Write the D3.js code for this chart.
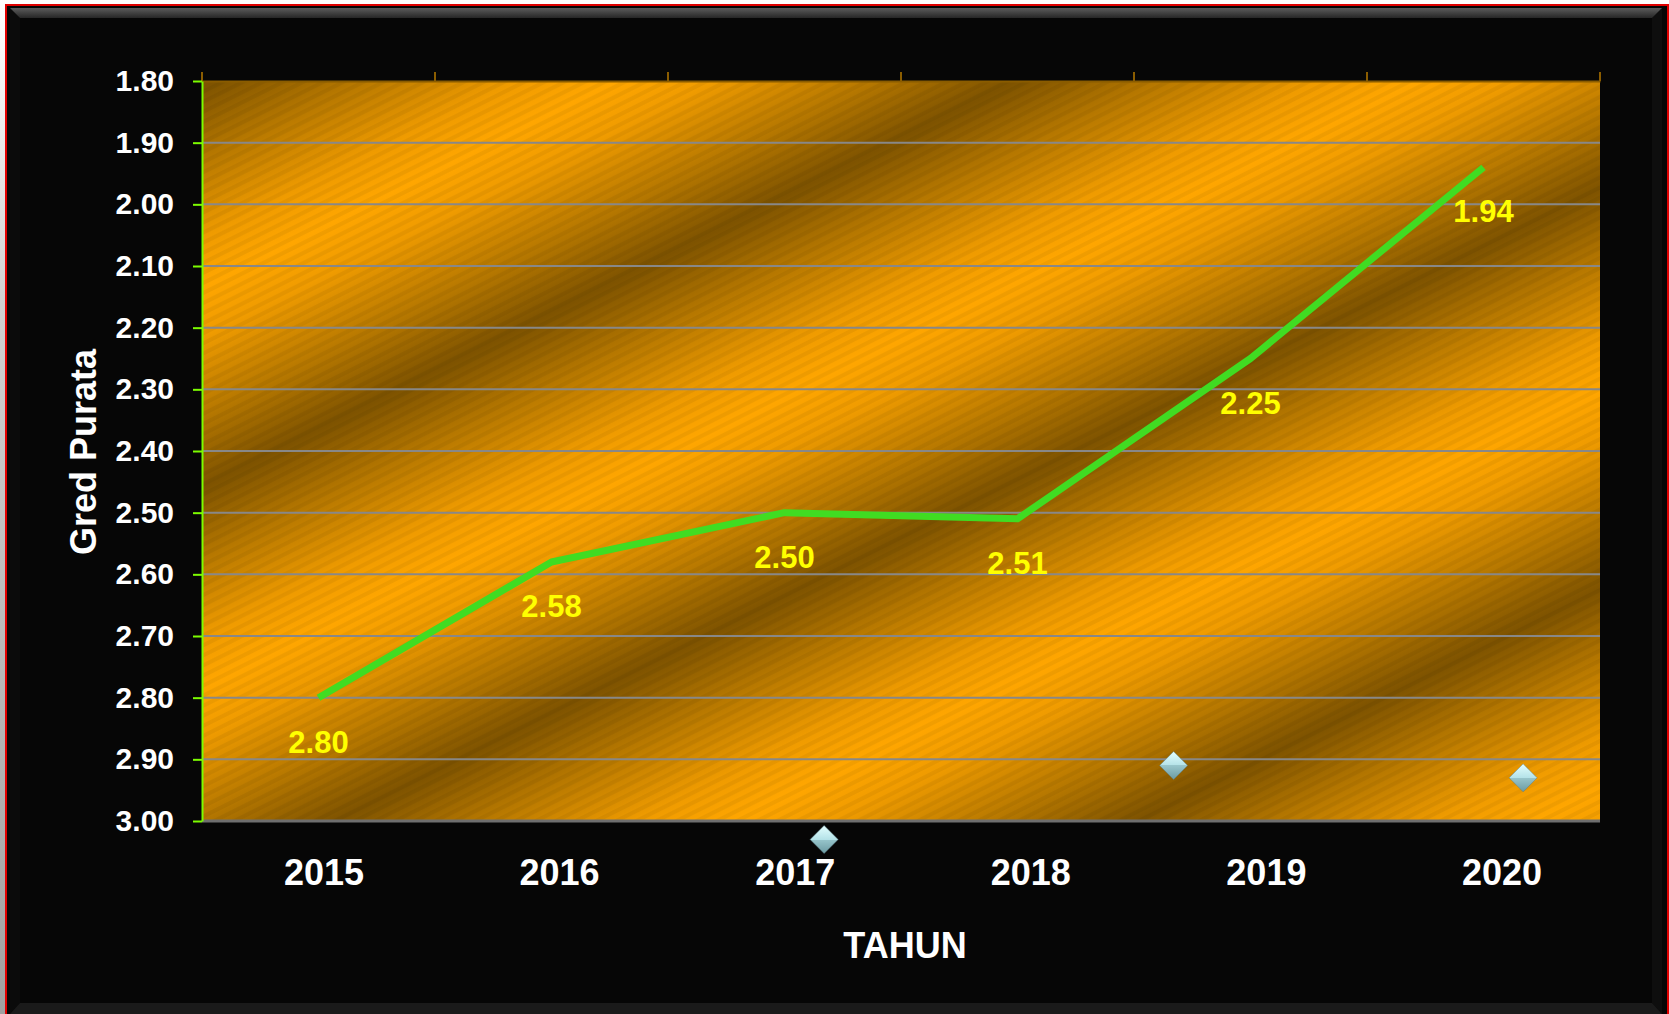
<!DOCTYPE html>
<html>
<head>
<meta charset="utf-8">
<script src="https://d3js.org/d3.v7.min.js"></script>
<style>
  body { margin: 0; background: #ffffff; }
  text { font-family: "Liberation Sans", Arial, sans-serif; font-weight: bold; }
</style>
</head>
<body>
<div id="chart"></div>
<script>
// chart data
var years = ["2015", "2016", "2017", "2018", "2019", "2020"];
var gredPurata = [2.80, 2.58, 2.50, 2.51, 2.25, 1.94];
var yTicks = [1.80, 1.90, 2.00, 2.10, 2.20, 2.30, 2.40, 2.50, 2.60, 2.70, 2.80, 2.90, 3.00];
// stray diamond markers (x as fractional year, y as grade)
var markerX = [2017.17, 2018.67, 2020.17];
var markerY = [3.03, 2.91, 2.93];

var W = 1669, H = 1014;
var plotL = 202, plotR = 1600, plotT = 81, plotB = 821;

var svg = d3.select("#chart").append("svg")
    .attr("width", W)
    .attr("height", H);

var defs = svg.append("defs");

// background pieces
var side = defs.append("linearGradient").attr("id", "side")
    .attr("x1", 0).attr("y1", 0).attr("x2", 0).attr("y2", 1);
side.append("stop").attr("offset", 0).attr("stop-color", "#ffffff");
side.append("stop").attr("offset", 0.3).attr("stop-color", "#d0d0d0");
side.append("stop").attr("offset", 1).attr("stop-color", "#a0a0a0");

var bevel = defs.append("linearGradient").attr("id", "bevel")
    .attr("x1", 0).attr("y1", 0).attr("x2", 0).attr("y2", 1);
bevel.append("stop").attr("offset", 0).attr("stop-color", "#5c5c5c");
bevel.append("stop").attr("offset", 1).attr("stop-color", "#262626");

// plot texture: broad diagonal bands
var bands = defs.append("linearGradient").attr("id", "bands")
    .attr("gradientUnits", "userSpaceOnUse")
    .attr("spreadMethod", "reflect")
    .attr("x1", 202).attr("y1", 488)
    .attr("x2", 282).attr("y2", 648);
bands.append("stop").attr("offset", 0).attr("stop-color", "#7e5300");
bands.append("stop").attr("offset", 0.35).attr("stop-color", "#b57700");
bands.append("stop").attr("offset", 0.75).attr("stop-color", "#ef9b00");
bands.append("stop").attr("offset", 1).attr("stop-color", "#ffa600");

// fine stripes
var stripes = defs.append("pattern").attr("id", "stripes")
    .attr("patternUnits", "userSpaceOnUse")
    .attr("width", 9).attr("height", 9)
    .attr("patternTransform", "rotate(-26.6)");
stripes.append("rect").attr("width", 9).attr("height", 4)
    .attr("fill", "#000").attr("opacity", 0.05);

var diamondFill = defs.append("linearGradient").attr("id", "diamond")
    .attr("x1", 0).attr("y1", 0).attr("x2", 0).attr("y2", 1);
diamondFill.append("stop").attr("offset", 0).attr("stop-color", "#e4ffff");
diamondFill.append("stop").attr("offset", 0.5).attr("stop-color", "#b4e2e8");
diamondFill.append("stop").attr("offset", 0.5).attr("stop-color", "#98c6cc");
diamondFill.append("stop").attr("offset", 1).attr("stop-color", "#6b9aa2");

// frame
svg.append("rect").attr("x", 0).attr("y", 0).attr("width", 7).attr("height", H).attr("fill", "url(#side)");
svg.append("rect").attr("x", 7).attr("y", 6).attr("width", 1661).attr("height", H - 6).attr("fill", "#060606");
svg.append("polygon").attr("points", "10,8 20,18 20,1003 10,1014").attr("fill", "#0b0b0b");
svg.append("polygon").attr("points", "1662,8 1652,18 1652,1003 1662,1014").attr("fill", "#0e0e0e");
svg.append("polygon").attr("points", "20,1003 1652,1003 1662,1014 10,1014").attr("fill", "#1a1a1a");
svg.append("polygon").attr("points", "10,8 1662,8 1652,18 20,18").attr("fill", "url(#bevel)");
svg.append("path").attr("d", "M6,1014 V5 H1668 V1014")
    .attr("fill", "none").attr("stroke", "#e00000").attr("stroke-width", 2);

// scales
var x = d3.scaleBand().domain(years).range([plotL, plotR]);
var xc = function(d) { return x(d) + x.bandwidth() / 2; };
var xYear = d3.scaleLinear().domain([2015, 2020]).range([xc("2015"), xc("2020")]);
var xLabel = d3.scalePoint().domain(years).range([324, 1502]);
var y = d3.scaleLinear().domain([1.8, 3.0]).range([plotT, plotB]);

// plot area
svg.append("rect").attr("x", plotL).attr("y", plotT)
    .attr("width", plotR - plotL).attr("height", plotB - plotT)
    .attr("fill", "url(#bands)");
svg.append("rect").attr("x", plotL).attr("y", plotT)
    .attr("width", plotR - plotL).attr("height", plotB - plotT)
    .attr("fill", "url(#stripes)");

// gridlines
svg.append("g").selectAll("line")
    .data(yTicks.slice(1, -1))
    .enter().append("line")
    .attr("x1", plotL).attr("x2", plotR)
    .attr("y1", function(d) { return y(d); })
    .attr("y2", function(d) { return y(d); })
    .attr("stroke", "#888888").attr("stroke-width", 2);

// top edge with category ticks
var xTop = svg.append("g").attr("transform", "translate(0," + plotT + ")")
    .call(d3.axisTop(x).tickSize(0).tickFormat(""));
xTop.select(".domain").attr("stroke", "#8a5c00").attr("stroke-width", 2);
xTop.selectAll(".bound")
    .data(years.concat(["end"]))
    .enter().append("line")
    .attr("class", "bound")
    .attr("x1", function(d, i) { return i < years.length ? x(d) : plotR; })
    .attr("x2", function(d, i) { return i < years.length ? x(d) : plotR; })
    .attr("y1", 0).attr("y2", -9)
    .attr("stroke", "#8a5c00").attr("stroke-width", 2);

// bottom axis line
svg.append("line")
    .attr("x1", plotL).attr("x2", plotR)
    .attr("y1", plotB).attr("y2", plotB)
    .attr("stroke", "#6e6e6e").attr("stroke-width", 3);

// y axis
var yAxis = svg.append("g").attr("transform", "translate(" + plotL + ",0)")
    .call(d3.axisLeft(y).tickValues(yTicks).tickSize(9).tickSizeOuter(0)
        .tickFormat(d3.format(".2f")));
yAxis.select(".domain").attr("stroke", "#7cfc00").attr("stroke-width", 2);
yAxis.selectAll(".tick line").attr("stroke", "#7cfc00").attr("stroke-width", 2);
yAxis.selectAll(".tick text")
    .attr("x", -28)
    .attr("fill", "#ffffff")
    .style("font-size", "30px")
    .style("font-family", "'Liberation Sans', Arial, sans-serif")
    .style("font-weight", "bold");

// x labels
svg.append("g").selectAll("text")
    .data(years)
    .enter().append("text")
    .attr("x", function(d) { return xLabel(d); })
    .attr("y", 885)
    .attr("text-anchor", "middle")
    .attr("fill", "#ffffff")
    .style("font-size", "36px")
    .text(function(d) { return d; });

// axis titles
svg.append("text")
    .attr("x", 905).attr("y", 958)
    .attr("text-anchor", "middle")
    .attr("fill", "#ffffff")
    .style("font-size", "36px")
    .text("TAHUN");

svg.append("text")
    .attr("transform", "translate(96,452) rotate(-90)")
    .attr("text-anchor", "middle")
    .attr("fill", "#ffffff")
    .style("font-size", "36px")
    .text("Gred Purata");

// line
var line = d3.line()
    .x(function(d, i) { return xc(years[i]); })
    .y(function(d) { return y(d); });

svg.append("path")
    .datum(gredPurata)
    .attr("d", line)
    .attr("fill", "none")
    .attr("stroke", "#40dc22")
    .attr("stroke-width", 7)
    .attr("stroke-linejoin", "round");

// value labels
svg.append("g").selectAll("text")
    .data(gredPurata)
    .enter().append("text")
    .attr("x", function(d, i) { return xc(years[i]); })
    .attr("y", function(d) { return y(d) + 55; })
    .attr("text-anchor", "middle")
    .attr("fill", "#ffff00")
    .style("font-size", "31px")
    .text(function(d) { return d.toFixed(2); });

// diamonds
svg.append("g").selectAll("path")
    .data(markerX)
    .enter().append("path")
    .attr("transform", function(d, i) {
        return "translate(" + xYear(d) + "," + y(markerY[i]) + ")";
    })
    .attr("d", "M0,-14 L14,0 L0,14 L-14,0 Z")
    .attr("fill", "url(#diamond)")
    .attr("stroke", "#5a7f86")
    .attr("stroke-width", 0.8)
    .attr("stroke-opacity", 0.6);
</script>
</body>
</html>
